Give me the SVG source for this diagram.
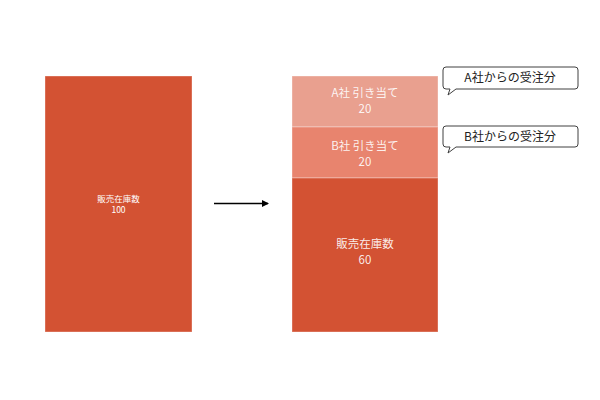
<svg xmlns="http://www.w3.org/2000/svg" width="600" height="400" viewBox="0 0 600 400">
<style>
.blk{stroke:#ffffff;stroke-opacity:0.35;stroke-width:1}
.lbl{font-family:"Noto Sans CJK JP","Noto Sans",sans-serif;fill:#ffffff;text-anchor:middle}
.sm{font-size:8.5px}
.md{font-size:11.5px;fill-opacity:0.9}
.co{fill:#ffffff;stroke:#404040;stroke-width:1}
.cot{font-family:"Noto Sans CJK JP","Noto Sans",sans-serif;font-size:12px;fill:#222;text-anchor:middle}
</style>
<defs>
<marker id="ah" markerWidth="8" markerHeight="8" refX="6" refY="4" orient="auto" markerUnits="userSpaceOnUse">
<path d="M0,0.5 L7,4 L0,7.5 Z" fill="#000"/>
</marker>
</defs>
<rect width="600" height="400" fill="#ffffff"/>
<g id="stock-before">
<rect class="blk" x="45" y="76" width="147" height="256" fill="#D35233"/>
<text class="lbl sm" x="118.5" y="202">販売在庫数</text>
<text class="lbl sm" x="118.5" y="213">100</text>
</g>
<g id="stock-after-a">
<rect class="blk" x="292" y="76" width="146" height="51" fill="#E9A08F"/>
<text class="lbl md" x="365" y="97">A社 引き当て</text>
<text class="lbl md" x="365" y="113">20</text>
</g>
<g id="stock-after-b">
<rect class="blk" x="292" y="127" width="146" height="51" fill="#E8846E"/>
<text class="lbl md" x="365" y="150">B社 引き当て</text>
<text class="lbl md" x="365" y="166">20</text>
</g>
<g id="stock-after-main">
<rect class="blk" x="292" y="178" width="146" height="154" fill="#D35233"/>
<text class="lbl md" x="365" y="248">販売在庫数</text>
<text class="lbl md" x="365" y="264">60</text>
</g>
<g id="callout-a">
<path class="co" d="M446,67 H575 Q578,67 578,70 V86 Q578,89 575,89 H456 L448,95 L450,89 H446 Q443,89 443,86 V70 Q443,67 446,67 Z"/>
<text class="cot" x="510" y="82">A社からの受注分</text>
</g>
<g id="callout-b">
<path class="co" d="M446,126 H575 Q578,126 578,129 V144 Q578,147 575,147 H456 L448,153 L450,147 H446 Q443,147 443,144 V129 Q443,126 446,126 Z"/>
<text class="cot" x="510" y="141">B社からの受注分</text>
</g>
<g id="connectors">
<line x1="214" y1="203.5" x2="268" y2="203.5" stroke="#000" stroke-width="1.3" marker-end="url(#ah)"/>
</g>
</svg>
